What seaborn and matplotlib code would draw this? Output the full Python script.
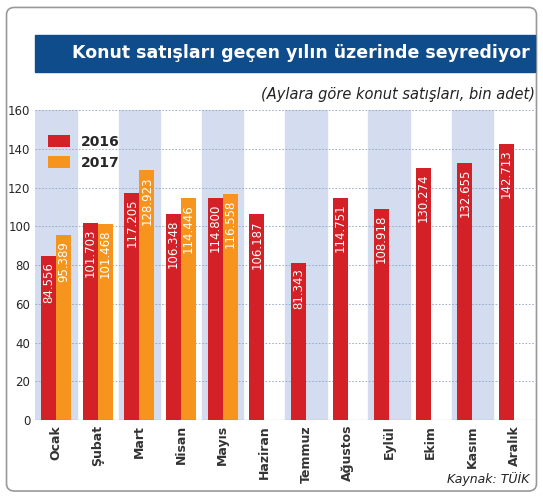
import matplotlib
matplotlib.use("Agg")
import matplotlib.pyplot as plt
import seaborn as sns
import pandas as pd
import numpy as np
from matplotlib.patches import FancyBboxPatch, Rectangle

months = ["Ocak", "Şubat", "Mart", "Nisan", "Mayıs", "Haziran", "Temmuz",
          "Ağustos", "Eylül", "Ekim", "Kasım", "Aralık"]
v2016 = [84.556, 101.703, 117.205, 106.348, 114.800, 106.187, 81.343,
         114.751, 108.918, 130.274, 132.655, 142.713]
v2017 = [95.389, 101.468, 128.923, 114.446, 116.558, np.nan, np.nan,
         np.nan, np.nan, np.nan, np.nan, np.nan]
yticks = [0, 20, 40, 60, 80, 100, 120, 140, 160]

df = pd.DataFrame({"Ay": months * 2, "Yıl": ["2016"] * 12 + ["2017"] * 12,
                   "Değer": v2016 + v2017})

sns.set_style("white")
fig = plt.figure(figsize=(5.43, 4.96), dpi=100)
ax = fig.add_axes([0.065, 0.153, 0.92, 0.625])

for i in range(0, 12, 2):
    ax.axvspan(i - 0.5, i + 0.5, color="#d3ddef", zorder=0)

sns.barplot(data=df, x="Ay", y="Değer", hue="Yıl",
            palette={"2016": "#d42027", "2017": "#f7941d"}, saturation=1,
            linewidth=0, width=0.72, ax=ax, zorder=3, legend=True)

for cont in ax.containers:
    for bar in cont:
        h = bar.get_height()
        if np.isnan(h) or h == 0:
            continue
        ax.text(bar.get_x() + bar.get_width() / 2, h - 3,
                f"{h:.3f}", rotation=90, ha="center", va="top",
                color="white", fontsize=8.5, zorder=4)

ax.set_xlim(-0.5, 11.5)
ax.set_ylim(0, 160)
ax.set_yticks(yticks)
ax.yaxis.grid(True, color="#8fa3c4", linewidth=0.6, linestyle=(0, (2, 2)))
ax.set_axisbelow(False)
for l in ax.yaxis.get_gridlines():
    l.set_zorder(1)
ax.set_xlabel("")
ax.set_ylabel("")
ax.tick_params(axis="x", rotation=90, labelsize=9, length=0)
ax.tick_params(axis="y", labelsize=8.5, length=0)
for lab in ax.get_xticklabels():
    lab.set_fontweight("bold")
    lab.set_color("#333333")
for s in ax.spines.values():
    s.set_visible(False)
ax.axhline(0, color="#666666", lw=0.8, zorder=5)

ax.legend(loc="upper left", bbox_to_anchor=(0.0, 0.96), frameon=False,
          prop={"weight": "bold", "size": 10}, handlelength=1.6, handleheight=1.0)

fig.patches.append(FancyBboxPatch((0.012, 0.01), 0.976, 0.975,
                                  boxstyle="round,pad=0,rounding_size=0.015",
                                  transform=fig.transFigure, fill=False,
                                  edgecolor="#999999", lw=1.2))
fig.patches.append(Rectangle((0.065, 0.855), 0.92, 0.075, transform=fig.transFigure,
                             color="#0f4c8c"))
fig.text(0.975, 0.893, "Konut satışları geçen yılın üzerinde seyrediyor",
         ha="right", va="center", color="white", fontsize=12.5, fontweight="bold")
fig.text(0.985, 0.81, "(Aylara göre konut satışları, bin adet)",
         ha="right", va="center", fontsize=10.5, style="italic", color="#222222")
fig.text(0.975, 0.035, "Kaynak: TÜİK", ha="right", va="center",
         fontsize=9, style="italic", color="#222222")

fig.savefig("out.png", dpi=100)
